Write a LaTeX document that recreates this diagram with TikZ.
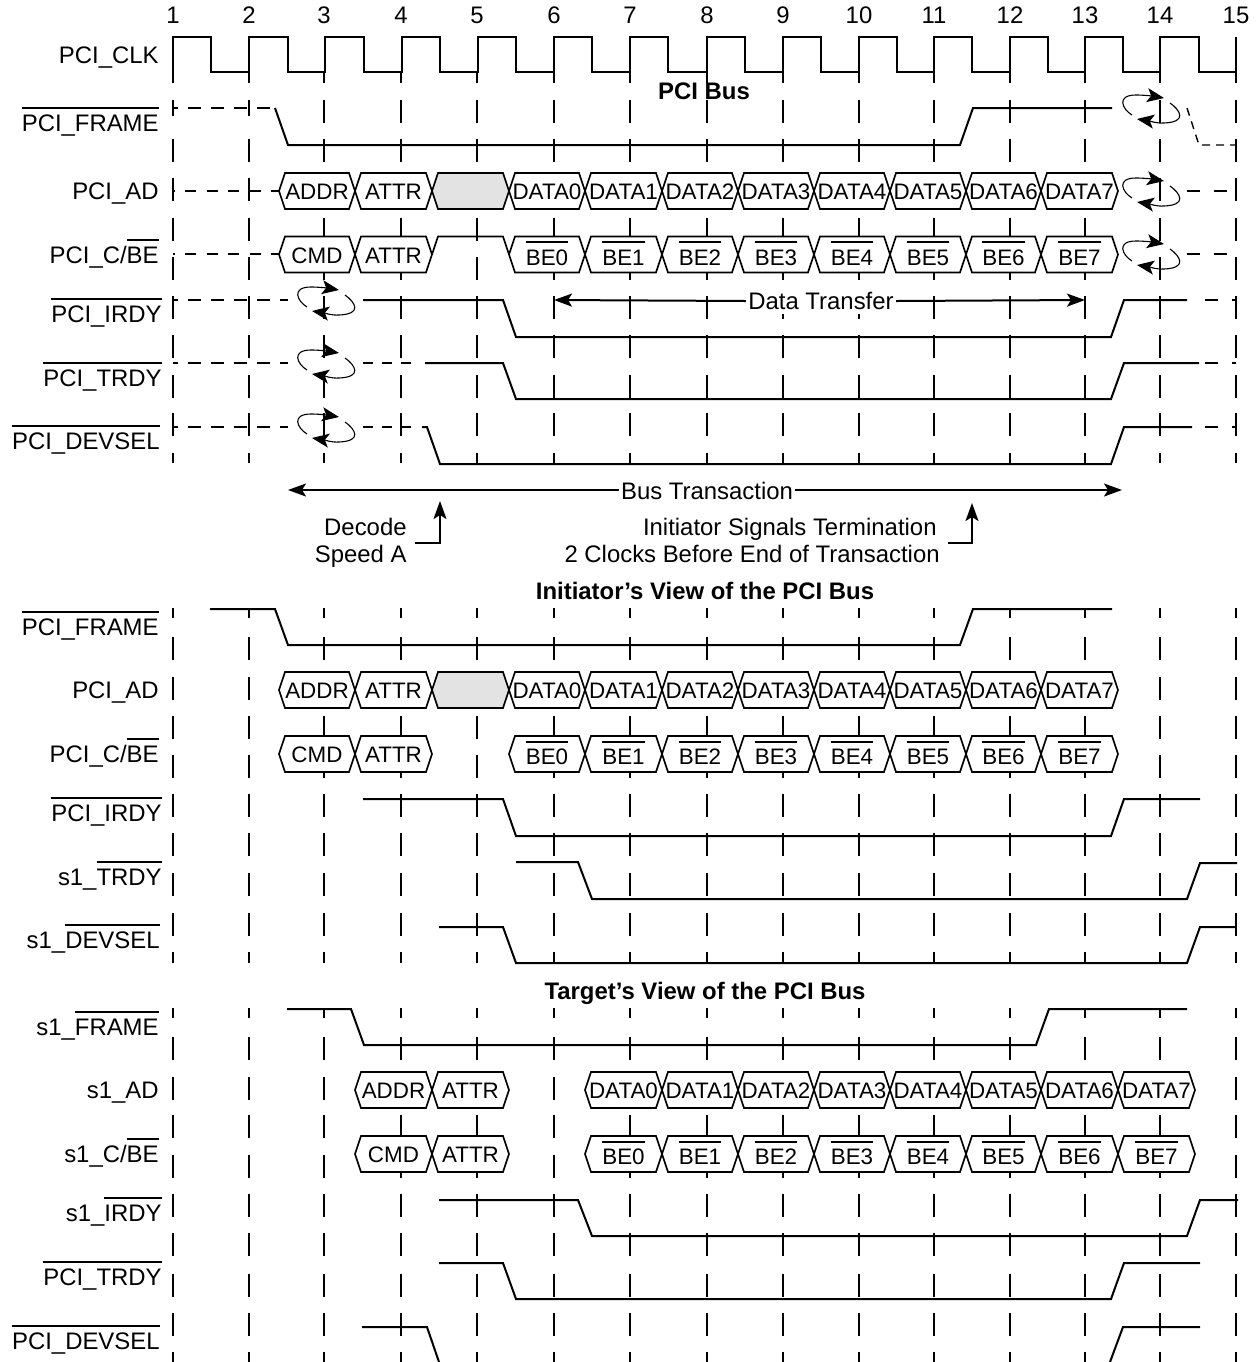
\documentclass[tikz,border=0pt]{standalone}
\usepackage{fontspec}
\setmainfont{Liberation Sans}
\usetikzlibrary{arrows.meta}
\newcommand\ol[1]{\vbox{\hrule height 1pt\hbox{\vrule width 0pt height 11pt #1}}}
\newcommand\sizeA{\fontsize{11.95}{14}\selectfont}
\newcommand\sizeB{\fontsize{11.2}{13}\selectfont}
\tikzset{
  sig/.style={line width=1pt,line join=miter},
  hexline/.style={line width=.85pt,line join=miter,fill=white},
  gridtick/.style={line width=1pt},
  dashA/.style={line width=.9pt,dash pattern=on 6.5pt off 5pt,dash phase=4pt},
  dashB/.style={line width=.9pt,dash pattern=on 5.5pt off 5.25pt,dash phase=4.75pt},
  dashR/.style={line width=.9pt,dash pattern=on 6.5pt off 7pt},
  dashM/.style={line width=.9pt,dash pattern=on 5pt off 4.5pt},
  lab/.style={anchor=base east,inner sep=0pt,font=\sizeA},
  hextext/.style={anchor=base,inner sep=0pt,font=\sizeB},
  title/.style={anchor=base,inner sep=0pt,font=\sizeA\bfseries},
  note/.style={anchor=base east,inner sep=0pt,font=\sizeA},
  num/.style={anchor=base,inner sep=0pt,font=\sizeA},
  harrow/.style={line width=1pt,-{Stealth[length=9pt,width=6.5pt,inset=2pt]}},
  turnaround/.pic={
    \draw[line width=.55pt,-{Stealth[length=8.5pt,width=7pt,inset=2pt]}]
      (-18,7) .. controls (-28,1) and (-34,-13) .. (-14,-13) .. controls (-6,-13) and (2,-12) .. (14,-10);
    \draw[line width=.55pt,-{Stealth[length=8.5pt,width=7pt,inset=2pt]}]
      (20,-5) .. controls (30,2) and (38,14) .. (14,15) .. controls (6,15.5) and (0,13) .. (-13,11);
  }
}
% tips of the hexagons, fixed half height 18
\newcommand\hexoff{8}
\newcommand\hexa[6][white]{% fill, name, left, right, ycentre, text
  \draw[hexline,fill=#1] (#3,#5) -- (#3+6,#5-18) -- (#4-6,#5-18) -- (#4,#5) -- (#4-6,#5+18) -- (#3+6,#5+18) -- cycle;
  \node[hextext] (#2) at ({(#3+#4)/2},#5+\hexoff) {#6};
}
\begin{document}
\begin{tikzpicture}[x=.5pt,y=-.5pt]
\useasboundingbox (0,0) rectangle (1260,1362);
\fill[white] (0,0) rectangle (1260,1362);
\def\cols{173,249,324,401,477,554,630,707,783,859,934,1010,1085,1160,1236}
% ---- numbers
\foreach \x [count=\n] in \cols { \node[num] (n\n) at (\x,23) {\n}; }
% ---- grid ticks
\foreach \x in {249,324,401,477,554,630,707,783,859,934,1010,1085,1160,1236} { \draw[gridtick] (\x,72) -- (\x,83); }
\foreach \x in \cols {
  \foreach \y in {139,178,218,257,296,335,375,413} { \draw[gridtick] (\x,\y) -- (\x,\y+22.5); }
  \draw[gridtick] (\x,453) -- (\x,463);
  \draw[gridtick] (\x,608) -- (\x,618);
  \foreach \y in {637,677,716,755,794,833,873,913} { \draw[gridtick] (\x,\y) -- (\x,\y+22.5); }
  \draw[gridtick] (\x,952) -- (\x,963);
  \draw[gridtick] (\x,1008) -- (\x,1018);
  \foreach \y in {1037,1077,1115,1155,1194,1233,1274,1313} { \draw[gridtick] (\x,\y) -- (\x,\y+22.5); }
  \draw[gridtick] (\x,1352) -- (\x,1362);
}
\foreach \x in {173,249} { \draw[gridtick] (\x,100) -- (\x,116); }
\foreach \x in {324,401,477,554,630,707,783,859,934,1010,1085,1160,1236} { \draw[gridtick] (\x,100) -- (\x,123); }
% ---- clock
\draw[sig] (173,83) -- (173,37) -- (211,37) -- (211,72) -- (249,72) -- (249,37) -- (288,37) -- (288,72) -- (325,72) -- (325,37) -- (364,37) -- (364,72) -- (402,72) -- (402,37) -- (440,37) -- (440,72) -- (478,72) -- (478,37) -- (516,37) -- (516,72) -- (554,72) -- (554,37) -- (592,37) -- (592,72) -- (630,72) -- (630,37) -- (668,37) -- (668,72) -- (707,72) -- (707,37) -- (745,37) -- (745,72) -- (783,72) -- (783,37) -- (821,37) -- (821,72) -- (859,72) -- (859,37) -- (897,37) -- (897,72) -- (934,72) -- (934,37) -- (972,37) -- (972,72) -- (1010,72) -- (1010,37) -- (1048,37) -- (1048,72) -- (1085,72) -- (1085,37) -- (1123,37) -- (1123,72) -- (1160,72) -- (1160,37) -- (1199,37) -- (1199,72) -- (1236,72) -- (1236,37);
% ---- section 1 signals
\draw[dashA] (173,108) -- (275,108);
\draw[sig] (275,108) -- (288,145) -- (960,145) -- (973,108) -- (1112,108);
\draw[line width=.7pt,dash pattern=on 4pt off 3pt] (1187,108) -- (1199,145) -- (1236,145);
\draw[dashB] (173,191) -- (279,191);
\draw[dashR] (1187,191) -- (1236,191);
\draw[dashB] (173,254) -- (279,254);
\draw[dashR] (1187,254) -- (1236,254);
\foreach \l/\r/\t [count=\n] in {279/355/ADDR,355/432/ATTR,509/585/DATA0,585/662/DATA1,662/738/DATA2,738/814/DATA3,814/890/DATA4,890/966/DATA5,966/1041/DATA6,1041/1118/DATA7}{
  \hexa{ada\n}{\l}{\r}{191}{\t}
}
\hexa[black!11]{adagray}{432}{509}{191}{}
\renewcommand\hexoff{9}
\foreach \l/\r/\t [count=\n] in {279/355/CMD,355/432/ATTR}{ \hexa{bea\n}{\l}{\r}{254.5}{\t} }
\renewcommand\hexoff{10.5}
\foreach \l/\r [count=\n from 0] in {509/585,585/662,662/738,738/814,814/890,890/966,966/1041,1041/1118}{
  \hexa{beb\n}{\l}{\r}{254.5}{\ol{BE\n}}
}
\renewcommand\hexoff{8}
\draw[sig,line width=.85pt] (432,254.5) -- (438,236.5) -- (503,236.5) -- (509,254.5);
\draw[dashA] (173,300) -- (288,300);
\draw[sig] (363,300) -- (503,300) -- (516,337) -- (1111,337) -- (1124,300) -- (1187,300);
\draw[dashR] (1205,300) -- (1236,300);
\draw[dashA] (173,363) -- (288,363);
\draw[dashM] (363,363) -- (412,363);
\draw[sig] (425,363) -- (503,363) -- (516,399) -- (1111,399) -- (1124,363) -- (1199,363);
\draw[dashR] (1205,363) -- (1236,363);
\draw[dashA] (173,427) -- (288,427);
\draw[dashM] (363,427) -- (412,427);
\draw[sig] (422,427) -- (427,427) -- (440,464) -- (1111,464) -- (1124,427) -- (1192,427);
\draw[dashR] (1205,427) -- (1236,427);
\pic at (325,300) {turnaround};
\pic at (325,363) {turnaround};
\pic at (325,427) {turnaround};
\pic at (1150,108) {turnaround};
\pic at (1150,191) {turnaround};
\pic at (1150,254) {turnaround};
% ---- data transfer
\node[font=\sizeA,fill=white,inner xsep=1pt,inner ysep=0pt,minimum height=13pt] (dt) at (821,301) {Data Transfer};
\coordinate (dtL) at (554,300);
\coordinate (dtR) at (1085,300);
\draw[harrow] (dt.west) -- (dtL);
\draw[harrow] (dt.east) -- (dtR);
% ---- bus transaction
\node[font=\sizeA,inner xsep=1pt,inner ysep=0pt] (bt) at (707,491) {Bus Transaction};
\coordinate (btL) at (288,490);
\coordinate (btR) at (1122,490);
\draw[harrow] (bt.west |- btL) -- (btL);
\draw[harrow] (bt.east |- btR) -- (btR);
% ---- notes
\node[note] (d1) at (407,535) {Decode};
\node[note] (d2) at (407,562) {Speed A};
\coordinate (d3) at (415,543);
\coordinate (d4) at (440,543);
\coordinate (d5) at (440,501);
\draw[harrow] (d3) -- (d4) -- (d5);
\node[note] (i1) at (937,535) {Initiator Signals Termination};
\node[note] (i2) at (940,562) {2 Clocks Before End of Transaction};
\coordinate (i3) at (948,543);
\coordinate (i4) at (972,543);
\coordinate (i5) at (972,503);
\draw[harrow] (i3) -- (i4) -- (i5);
% ---- titles
\node[title] (t1) at (704,99) {PCI Bus};
\node[title] (t2) at (705,599) {Initiator’s View of the PCI Bus};
\node[title] (t3) at (705,999) {Target’s View of the PCI Bus};
% ---- section 2 signals
\draw[sig] (210,609) -- (275,609) -- (288,645) -- (960,645) -- (973,609) -- (1112,609);
\foreach \l/\r/\t [count=\n] in {279/355/ADDR,355/432/ATTR,509/585/DATA0,585/662/DATA1,662/738/DATA2,738/814/DATA3,814/890/DATA4,890/966/DATA5,966/1041/DATA6,1041/1118/DATA7}{
  \hexa{adb\n}{\l}{\r}{690}{\t}
}
\hexa[black!11]{adbgray}{432}{509}{690}{}
\renewcommand\hexoff{8.5}
\foreach \l/\r/\t [count=\n] in {279/355/CMD,355/432/ATTR}{ \hexa{bec\n}{\l}{\r}{754}{\t} }
\renewcommand\hexoff{10.5}
\foreach \l/\r [count=\n from 0] in {509/585,585/662,662/738,738/814,814/890,890/966,966/1041,1041/1118}{
  \hexa{bed\n}{\l}{\r}{754}{\ol{BE\n}}
}
\renewcommand\hexoff{8}
\draw[sig] (363,799) -- (503,799) -- (516,836) -- (1111,836) -- (1124,799) -- (1200,799);
\draw[sig] (516,862) -- (578,862) -- (592,899) -- (1187,899) -- (1200,863) -- (1237,863);
\draw[sig] (439,927) -- (503,927) -- (516,963) -- (1187,963) -- (1200,927) -- (1236,927);
% ---- section 3 signals
\draw[sig] (287,1009) -- (351,1009) -- (364,1045) -- (1036,1045) -- (1049,1009) -- (1187,1009);
\foreach \l/\r/\t [count=\n] in {355/432/ADDR,432/509/ATTR,585/662/DATA0,662/738/DATA1,738/814/DATA2,814/890/DATA3,890/966/DATA4,966/1041/DATA5,1041/1118/DATA6,1118/1195/DATA7}{
  \hexa{adc\n}{\l}{\r}{1090}{\t}
}
\renewcommand\hexoff{8.5}
\foreach \l/\r/\t [count=\n] in {355/432/CMD,432/509/ATTR}{ \hexa{bee\n}{\l}{\r}{1154}{\t} }
\renewcommand\hexoff{10.5}
\foreach \l/\r [count=\n from 0] in {585/662,662/738,738/814,814/890,890/966,966/1041,1041/1118,1118/1195}{
  \hexa{bef\n}{\l}{\r}{1154}{\ol{BE\n}}
}
\draw[sig] (439,1200) -- (578,1200) -- (592,1236) -- (1187,1236) -- (1200,1200) -- (1238,1200);
\draw[sig] (439,1263) -- (503,1263) -- (516,1299) -- (1111,1299) -- (1124,1263) -- (1200,1263);
\draw[sig] (362,1327) -- (427,1327) -- (439,1362);
\draw[sig] (1110,1362) -- (1123,1327) -- (1200,1327);
% ---- labels
\node[lab] (l01) at (159,63) {PCI\_CLK};
\node[lab] (l02) at (159,131) {\ol{PCI\_FRAME}};
\node[lab] (l03) at (159,199) {PCI\_AD};
\node[lab] (l04) at (159,263) {PCI\_C/\ol{BE}};
\node[lab] (l05) at (162,322) {\ol{PCI\_IRDY}};
\node[lab] (l06) at (162,386) {\ol{PCI\_TRDY}};
\node[lab] (l07) at (160,449) {\ol{PCI\_DEVSEL}};
\node[lab] (l08) at (159,635) {\ol{PCI\_FRAME}};
\node[lab] (l09) at (159,698) {PCI\_AD};
\node[lab] (l10) at (159,762) {PCI\_C/\ol{BE}};
\node[lab] (l11) at (162,821) {\ol{PCI\_IRDY}};
\node[lab] (l12) at (162,885) {s1\_\ol{TRDY}};
\node[lab] (l13) at (160,948) {s1\_\ol{DEVSEL}};
\node[lab] (l14) at (159,1035) {s1\_\ol{FRAME}};
\node[lab] (l15) at (159,1098) {s1\_AD};
\node[lab] (l16) at (159,1162) {s1\_C/\ol{BE}};
\node[lab] (l17) at (162,1221) {s1\_\ol{IRDY}};
\node[lab] (l18) at (162,1285) {\ol{PCI\_TRDY}};
\node[lab] (l19) at (160,1349) {\ol{PCI\_DEVSEL}};
\end{tikzpicture}
\end{document}
